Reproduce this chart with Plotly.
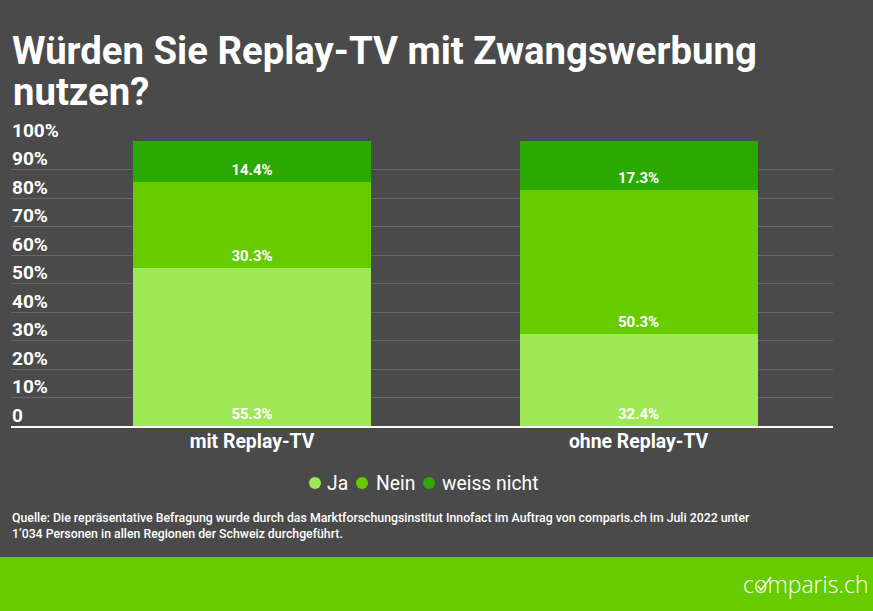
import plotly.graph_objects as go

W = 873
H = 611

# data
categories = ['mit Replay-TV', 'ohne Replay-TV']
series_names = ['Ja', 'Nein', 'weiss nicht']
ja_values = [55.3, 32.4]
nein_values = [30.3, 50.3]
weiss_values = [14.4, 17.3]
tick_values = [0, 10, 20, 30, 40, 50, 60, 70, 80, 90, 100]
tick_labels = ['0', '10%', '20%', '30%', '40%', '50%', '60%', '70%', '80%', '90%', '100%']

title_lines = ['Würden Sie Replay-TV mit Zwangswerbung', 'nutzen?']
source_text = ('Quelle: Die repräsentative Befragung wurde durch das Marktforschungsinstitut Innofact im Auftrag von comparis.ch im Juli 2022 unter<br>'
               '1’034 Personen in allen Regionen der Schweiz durchgeführt.')

# colours
bg = '#4a4a4a'
green_light = '#9fe855'
green_mid = '#66cc00'
green_dark = '#2ca900'
series_colors = [green_light, green_mid, green_dark]

FONT = 'Roboto'

# plot area in pixels
left, right, top, bottom = 11, 833, 141, 426

# legend positions in pixels, plotly's own legend spaces the items too wide
legend_dot_x = [315, 362, 429]
legend_text_x = [325, 374, 440]
legend_y = 483


def px(x):
    return (x - left) / (right - left)


def py(y):
    return (bottom - y) / (bottom - top)


fig = go.Figure()

for name, values, color in zip(series_names, [ja_values, nein_values, weiss_values], series_colors):
    fig.add_trace(go.Bar(
        x=[0, 1],
        y=values,
        name=name,
        width=0.616,
        marker=dict(color=color, line=dict(width=0)),
        text=[f'{v:.1f}%' for v in values],
        textposition='inside',
        insidetextanchor='start',
        textangle=0,
        constraintext='none',
        textfont=dict(family=FONT, size=15, color='white', weight=700),
        showlegend=False,
    ))

shapes = [
    dict(type='rect', xref='paper', yref='paper', layer='below',
         x0=px(0), x1=px(W), y0=py(557), y1=py(H), fillcolor=green_mid, line_width=0),
    # check mark of the logo
    dict(type='path', xref='paper', yref='paper', line=dict(color='white', width=1.5),
         path=f'M {px(758)} {py(586)} L {px(761)} {py(590)} L {px(771)} {py(577)}'),
]
annotations = [
    dict(text=title_lines[1], xref='paper', yref='paper', x=px(11), y=py(92), xanchor='left', yanchor='middle',
         showarrow=False, font=dict(family=FONT, size=38.3, color='white', weight=700)),
    dict(text=source_text, xref='paper', yref='paper', x=px(10), y=py(526), xanchor='left', yanchor='middle',
         align='left', showarrow=False, font=dict(family=FONT, size=12.3, color='white', weight=500)),
    dict(text='comparis.ch', xref='paper', yref='paper', x=px(870), y=py(584), xanchor='right', yanchor='middle',
         showarrow=False, font=dict(family='Open Sans', size=23, color='white', weight=300)),
]

# y tick labels sit above their grid lines, left aligned
for val, label in zip(tick_values, tick_labels):
    annotations.append(dict(text=label, xref='paper', yref='y', x=px(10), y=val, yshift=11,
                            xanchor='left', yanchor='middle', showarrow=False,
                            font=dict(family=FONT, size=19, color='white', weight=700)))

for name, color, dot_x, text_x in zip(series_names, series_colors, legend_dot_x, legend_text_x):
    shapes.append(dict(type='circle', xref='paper', yref='paper', fillcolor=color, line_width=0,
                       x0=px(dot_x - 6), x1=px(dot_x + 6), y0=py(legend_y + 6), y1=py(legend_y - 6)))
    annotations.append(dict(text=name, xref='paper', yref='paper', x=px(text_x), y=py(legend_y),
                            xanchor='left', yanchor='middle', showarrow=False,
                            font=dict(family=FONT, size=19.3, color='white')))

fig.update_layout(
    width=W,
    height=H,
    barmode='stack',
    paper_bgcolor=bg,
    plot_bgcolor=bg,
    margin=dict(l=left, r=W - right, t=top, b=H - bottom, pad=0),
    font=dict(family=FONT, color='white'),
    title=dict(
        text=title_lines[0],
        font=dict(family=FONT, size=38.3, color='white', weight=700),
        x=12 / W,
        xref='container',
        xanchor='left',
        y=1 - 51 / H,
        yref='container',
        yanchor='middle',
    ),
    xaxis=dict(
        range=[-0.6235, 1.503],
        tickvals=[0, 1],
        ticktext=categories,
        tickfont=dict(family=FONT, size=19.4, color='white', weight=700),
        ticklabelstandoff=-3,
        showgrid=False,
        zeroline=False,
        showline=True,
        linecolor='white',
        linewidth=2,
        ticks='',
    ),
    yaxis=dict(
        range=[0, 100],
        tickvals=tick_values,
        showticklabels=False,
        gridcolor='#666666',
        gridwidth=1,
        zeroline=False,
        showline=False,
        ticks='',
    ),
    shapes=shapes,
    annotations=annotations,
)

fig.write_html('out.html', config=dict(displayModeBar=False),
               post_script="document.body.style.margin='0';document.body.style.overflow='hidden';")
